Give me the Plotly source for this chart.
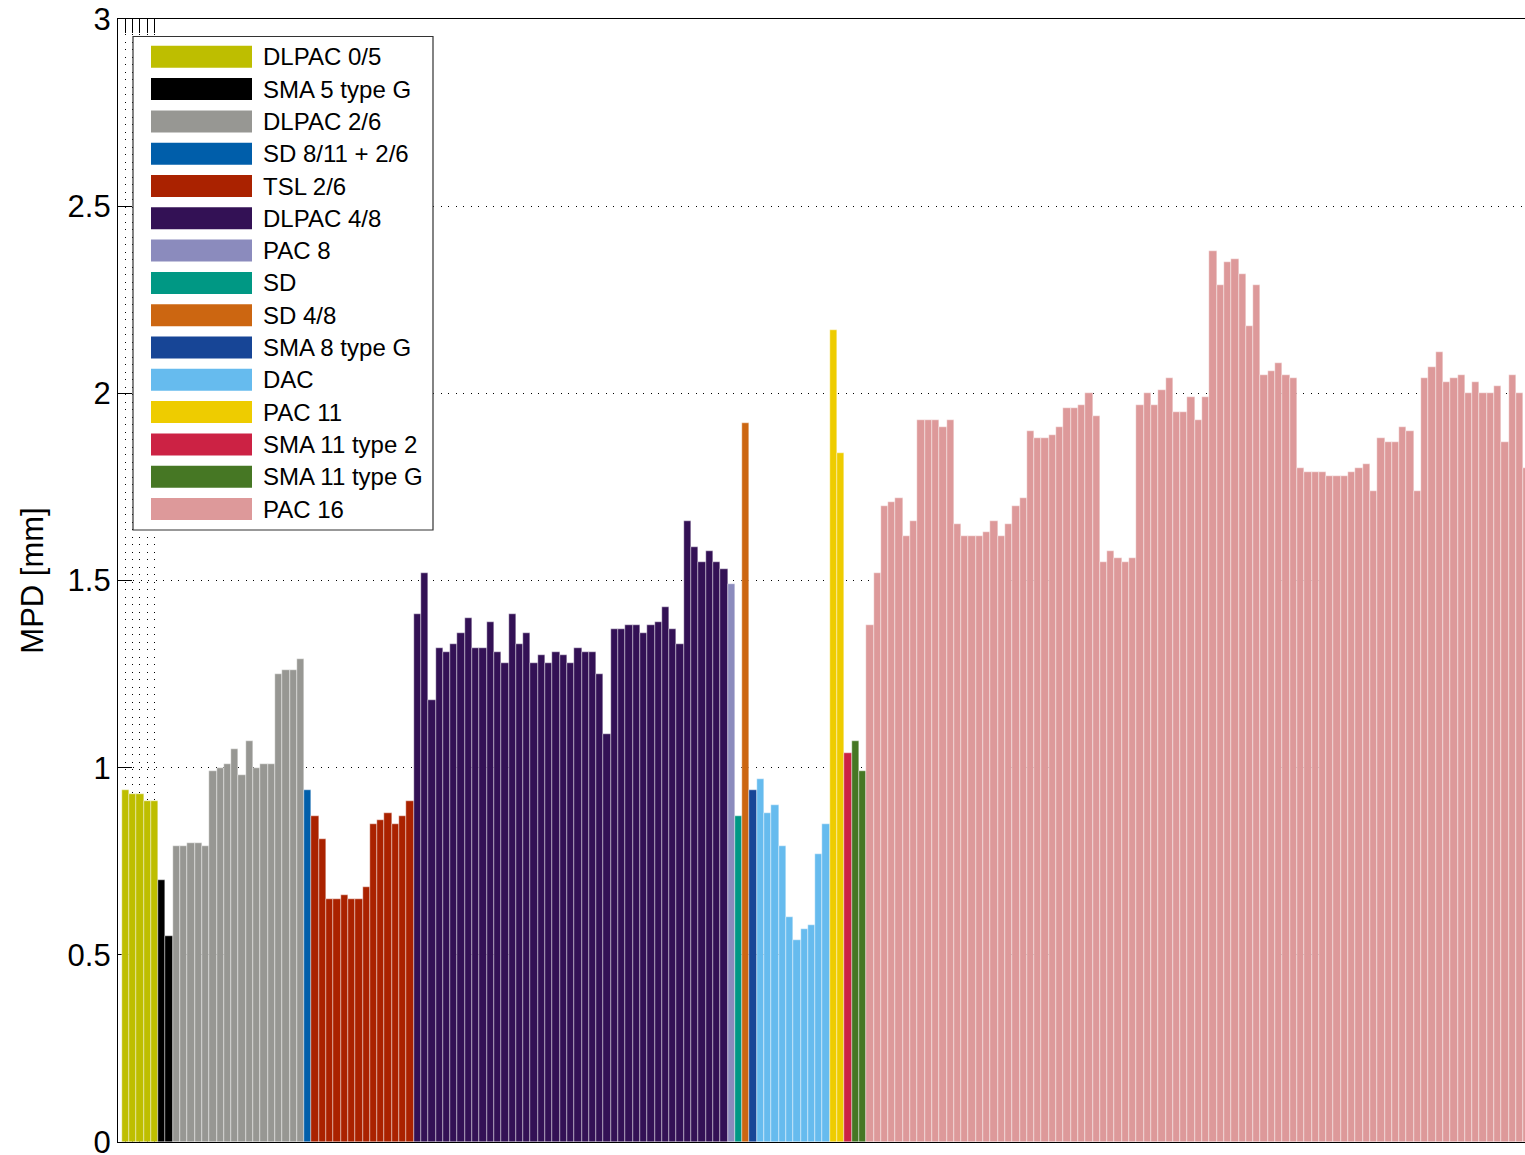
import plotly.graph_objects as go

# MPD per test section, grouped by surface type (one bar per section)
categories = [
    "DLPAC 0/5", "SMA 5 type G", "DLPAC 2/6", "SD 8/11 + 2/6", "TSL 2/6",
    "DLPAC 4/8", "PAC 8", "SD", "SD 4/8", "SMA 8 type G", "DAC", "PAC 11",
    "SMA 11 type 2", "SMA 11 type G", "PAC 16",
]

dlpac_05 = [0.94, 0.93, 0.93, 0.91, 0.91]
sma5_g = [0.70, 0.55]
dlpac_26 = [0.79, 0.79, 0.80, 0.80, 0.79, 0.99, 1.00, 1.01, 1.05, 0.98,
            1.07, 1.00, 1.01, 1.01, 1.25, 1.26, 1.26, 1.29]
sd_811_26 = [0.94]
tsl_26 = [0.87, 0.81, 0.65, 0.65, 0.66, 0.65, 0.65, 0.68, 0.85, 0.86,
          0.88, 0.85, 0.87, 0.91]
dlpac_48 = [1.41, 1.52, 1.18, 1.32, 1.31, 1.33, 1.36, 1.40, 1.32, 1.32,
            1.39, 1.31, 1.28, 1.41, 1.33, 1.36, 1.28, 1.30, 1.28, 1.31,
            1.30, 1.28, 1.32, 1.31, 1.31, 1.25, 1.09, 1.37, 1.37, 1.38,
            1.38, 1.36, 1.38, 1.39, 1.43, 1.37, 1.33, 1.66, 1.59, 1.55,
            1.58, 1.55, 1.53]
pac_8 = [1.49]
sd = [0.87]
sd_48 = [1.92]
sma8_g = [0.94]
dac = [0.97, 0.88, 0.90, 0.79, 0.60, 0.54, 0.57, 0.58, 0.77, 0.85]
pac_11 = [2.17, 1.84]
sma11_2 = [1.04]
sma11_g = [1.07, 0.99]
pac_16 = [1.38, 1.52, 1.70, 1.71, 1.72, 1.62, 1.66, 1.93, 1.93, 1.93,
          1.91, 1.93, 1.65, 1.62, 1.62, 1.62, 1.63, 1.66, 1.62, 1.65,
          1.70, 1.72, 1.90, 1.88, 1.88, 1.89, 1.91, 1.96, 1.96, 1.97,
          2.00, 1.94, 1.55, 1.58, 1.56, 1.55, 1.56, 1.97, 2.00, 1.97,
          2.01, 2.04, 1.95, 1.95, 1.99, 1.93, 1.99, 2.38, 2.29, 2.35,
          2.36, 2.32, 2.18, 2.29, 2.05, 2.06, 2.08, 2.05, 2.04, 1.80,
          1.79, 1.79, 1.79, 1.78, 1.78, 1.78, 1.79, 1.80, 1.81, 1.74,
          1.88, 1.87, 1.87, 1.91, 1.90, 1.74, 2.04, 2.07, 2.11, 2.03,
          2.04, 2.05, 2.00, 2.03, 2.00, 2.00, 2.02, 1.87, 2.05, 2.00,
          1.80]

series = [dlpac_05, sma5_g, dlpac_26, sd_811_26, tsl_26, dlpac_48, pac_8,
          sd, sd_48, sma8_g, dac, pac_11, sma11_2, sma11_g, pac_16]

colors = ["#BEBE00", "#000000", "#979793", "#005EAA", "#AA2200",
          "#331155", "#8B8BBD", "#009884", "#CC6611", "#174596",
          "#66BBEE", "#EECC00", "#CC2244", "#467724", "#DD999A"]

FONT = "Liberation Sans, Arial, Helvetica, sans-serif"

# figure geometry (pixels)
W, H = 1525, 1155
ML, MR, MT, MB = 118, 0, 19, 13
PLOT_W = W - ML - MR
PLOT_H = H - MT - MB
BAR_PX = 7.3  # width of one section on the x axis


def fx(px):
    return (px - ML) / PLOT_W


def fy(py):
    return (H - MB - py) / PLOT_H


fig = go.Figure()

pos = 1
for name, vals, col in zip(categories, series, colors):
    xs = list(range(pos, pos + len(vals)))
    pos += len(vals)
    fig.add_trace(go.Bar(
        x=xs, y=vals, name=name, width=1.0,
        marker=dict(color=col, line=dict(color="white", width=0.4)),
        showlegend=False,
    ))

# boxed legend with wide colour patches
LEG_L, LEG_T, LEG_R, LEG_B = 133, 36.5, 433, 530
shapes = [dict(type="rect", xref="paper", yref="paper",
               x0=fx(LEG_L), x1=fx(LEG_R), y0=fy(LEG_B), y1=fy(LEG_T),
               fillcolor="white", line=dict(color="#333333", width=1.2),
               layer="above")]
annotations = []
for i, (name, col) in enumerate(zip(categories, colors)):
    cy = 56.8 + 32.3 * i
    shapes.append(dict(type="rect", xref="paper", yref="paper",
                       x0=fx(151), x1=fx(252), y0=fy(cy + 11), y1=fy(cy - 11),
                       fillcolor=col, line=dict(width=0), layer="above"))
    annotations.append(dict(xref="paper", yref="paper", x=fx(261), y=fy(cy),
                            text=name, showarrow=False, xanchor="left",
                            yanchor="middle",
                            font=dict(family=FONT, size=24, color="black")))

fig.update_layout(
    width=W, height=H,
    margin=dict(l=ML, r=MR, t=MT, b=MB, pad=0, autoexpand=False),
    paper_bgcolor="white", plot_bgcolor="white",
    barmode="overlay", bargap=0,
    shapes=shapes, annotations=annotations,
    font=dict(family=FONT, color="black"),
)

fig.update_xaxes(
    range=[0, PLOT_W / BAR_PX],
    tickvals=[1, 2, 3, 4, 5], showticklabels=False,
    ticks="inside", ticklen=14, tickcolor="black", tickwidth=1,
    showline=True, linecolor="black", linewidth=1.2, mirror="ticks",
    showgrid=True, gridcolor="#000000", gridwidth=1.2, griddash="1.2px,6.3px",
    zeroline=False, layer="below traces", automargin=False,
)

fig.update_yaxes(
    range=[0, 3], tick0=0, dtick=0.5,
    ticks="inside", ticklen=14, tickcolor="black", tickwidth=1,
    showline=True, linecolor="black", linewidth=1.2, mirror=False,
    showgrid=True, gridcolor="#000000", gridwidth=1.2, griddash="1.2px,6.3px",
    zeroline=False, layer="below traces", ticklabeloverflow="allow",
    automargin=False,
    tickfont=dict(family=FONT, size=31, color="black"),
    title=dict(text="MPD [mm]", font=dict(family=FONT, size=31, color="black"),
               standoff=14),
)

fig.write_html("out.html")
